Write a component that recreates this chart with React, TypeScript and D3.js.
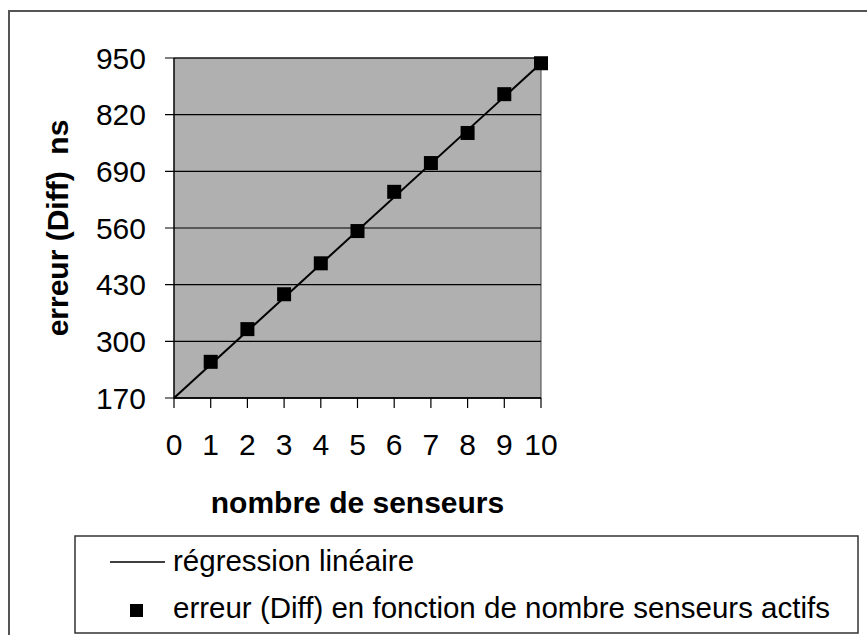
import React from 'react';
import { scaleLinear, line } from 'd3';

// values
const sensorCounts = [1, 2, 3, 4, 5, 6, 7, 8, 9, 10];
const diffErrors = [253, 328, 408, 479, 553, 643, 709, 778, 867, 938];
// end points of the fitted line
const regressionX = [0, 10];
const regressionY = [170, 938];
const yTicks = [170, 300, 430, 560, 690, 820, 950];
const xTicks = [0, 1, 2, 3, 4, 5, 6, 7, 8, 9, 10];

const W = 867;
const H = 635;
const plot = { left: 174, right: 541, top: 58, bottom: 398 };
const font = '"Liberation Sans", Arial, sans-serif';

export default function App() {
  const x = scaleLinear().domain([0, 10]).range([plot.left, plot.right]);
  const y = scaleLinear().domain([170, 950]).range([plot.bottom, plot.top]);

  const regPath = line<number>()
    .x((d) => x(d))
    .y((d, i) => y(regressionY[i]))(regressionX);

  const cx = (plot.left + plot.right) / 2;
  const cy = (plot.top + plot.bottom) / 2;

  return (
    <svg
      width={W}
      height={H}
      style={{ position: 'absolute', left: 0, top: 0, background: '#fff' }}
      fontFamily={font}
    >
      {/* outer frame, runs off the right and bottom */}
      <rect x={9} y={11} width={900} height={700} fill="none" stroke="#555" strokeWidth={2} />

      {/* plot area */}
      <rect
        x={plot.left}
        y={plot.top}
        width={plot.right - plot.left}
        height={plot.bottom - plot.top}
        fill="#b0b0b0"
        stroke="#444"
        strokeWidth={1}
      />

      {/* gridlines + y ticks */}
      {yTicks.map((t) => (
        <g key={t}>
          <line x1={plot.left - 9} x2={plot.right} y1={y(t)} y2={y(t)} stroke="#000" strokeWidth={1.2} />
          <text x={146} y={y(t)} dy="0.36em" textAnchor="end" fontSize={30} fill="#000">
            {t}
          </text>
        </g>
      ))}

      {/* axes */}
      <line x1={plot.left} x2={plot.left} y1={plot.top} y2={plot.bottom} stroke="#000" strokeWidth={1.2} />
      <line x1={plot.left} x2={plot.right} y1={plot.bottom} y2={plot.bottom} stroke="#000" strokeWidth={1.5} />

      {xTicks.map((t) => (
        <g key={t}>
          <line x1={x(t)} x2={x(t)} y1={plot.bottom} y2={plot.bottom + 10} stroke="#000" strokeWidth={1.2} />
          <text x={x(t)} y={455} textAnchor="middle" fontSize={30} fill="#000">
            {t}
          </text>
        </g>
      ))}

      {/* regression line */}
      <path d={regPath ?? ''} fill="none" stroke="#000" strokeWidth={2} />

      {/* data markers */}
      {sensorCounts.map((s, i) => (
        <rect key={s} x={x(s) - 7} y={y(diffErrors[i]) - 7} width={14} height={14} fill="#000" />
      ))}

      {/* axis titles */}
      <text x={cx} y={513} textAnchor="middle" fontSize={30} fontWeight="bold" fill="#000">
        nombre de senseurs
      </text>
      <text
        transform={`translate(68,${cy}) rotate(-90)`}
        textAnchor="middle"
        fontSize={30}
        fontWeight="bold"
        fill="#000"
      >
        {'erreur (Diff)\u00A0 ns'}
      </text>

      {/* legend */}
      <rect x={75} y={536} width={783} height={97} fill="#fff" stroke="#333" strokeWidth={1.5} />
      <line x1={110} x2={165} y1={562} y2={562} stroke="#000" strokeWidth={1.5} />
      <text x={173} y={571} fontSize={29.5} fill="#000">
        régression linéaire
      </text>
      <rect x={130} y={604} width={13} height={13} fill="#000" />
      <text x={173} y={618} fontSize={29.5} fill="#000">
        erreur (Diff) en fonction de nombre senseurs actifs
      </text>
    </svg>
  );
}
